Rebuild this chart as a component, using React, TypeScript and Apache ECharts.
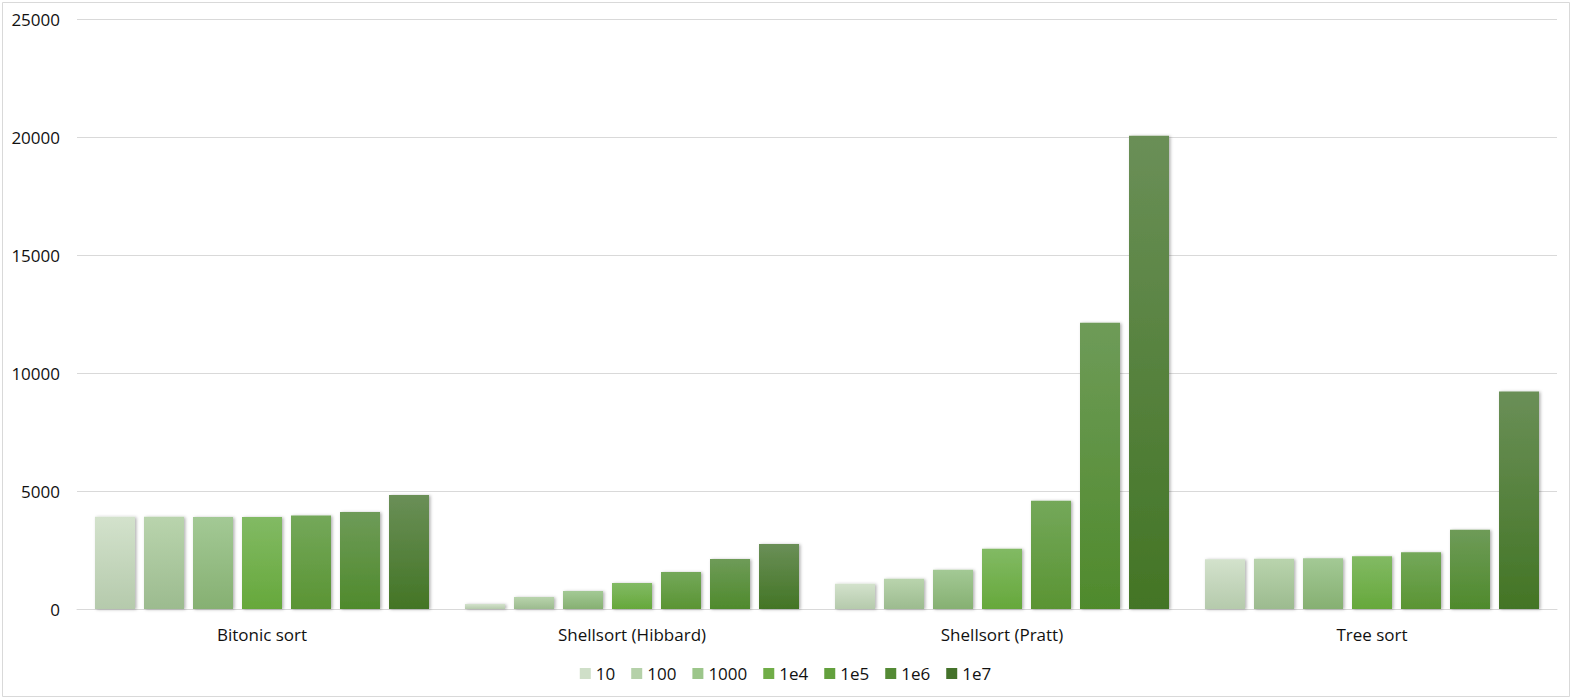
import React, { useEffect, useRef } from "react";
import * as echarts from "echarts";

const categories = ["Bitonic sort", "Shellsort (Hibbard)", "Shellsort (Pratt)", "Tree sort"];
const seriesNames = ["10", "100", "1000", "1e4", "1e5", "1e6", "1e7"];
// values per series, in category order
const s10 = [3910, 210, 1070, 2110];
const s100 = [3910, 510, 1285, 2125];
const s1000 = [3900, 760, 1665, 2150];
const s1e4 = [3900, 1100, 2555, 2235];
const s1e5 = [3960, 1570, 4590, 2405];
const s1e6 = [4110, 2120, 12130, 3355];
const s1e7 = [4830, 2750, 20055, 9220];
const seriesValues = [s10, s100, s1000, s1e4, s1e5, s1e6, s1e7];
const yTicks = { min: 0, max: 25000, interval: 5000 };

const topColors = ["#d3e2cc", "#b9d4ad", "#a3c995", "#82ba64", "#74a85a", "#6e9b58", "#6a8f57"];
const bottomColors = ["#b5caac", "#9cbb8f", "#86b072", "#66a83b", "#5a9433", "#4f8a2c", "#437525"];
const legendColors = ["#cfdfc8", "#b5d1a9", "#9cc68a", "#70ad47", "#63a03d", "#548a35", "#44722a"];

const FONT = "'Open Sans', 'Liberation Sans', sans-serif";
const TEXT = "#111111";

export default function App() {
  const ref = useRef<HTMLDivElement>(null);
  useEffect(() => {
    document.body.style.margin = "0";
    const chart = echarts.init(ref.current!, null, { renderer: "svg" });
    chart.setOption({
      animation: false,
      backgroundColor: "#ffffff",
      graphic: [
        {
          type: "rect",
          left: 0,
          top: 0,
          shape: { width: 1567, height: 694 },
          style: { fill: "none", stroke: "#d9d9d9", lineWidth: 1 },
          silent: true,
        },
      ],
      grid: { left: 77, right: 14, top: 19, bottom: 88, containLabel: false },
      legend: {
        data: seriesNames.map((n, i) => ({ name: n, itemStyle: { color: legendColors[i] } })),
        left: "center",
        top: 660,
        itemWidth: 11,
        itemHeight: 11,
        itemGap: 16,
        icon: "rect",
        textStyle: { fontFamily: FONT, fontSize: 17, color: TEXT },
      },
      xAxis: {
        type: "category",
        data: categories,
        axisLine: { lineStyle: { color: "#d9d9d9", width: 1 } },
        axisTick: { show: false },
        axisLabel: { fontFamily: FONT, fontSize: 17, color: TEXT, margin: 17 },
      },
      yAxis: {
        type: "value",
        min: yTicks.min,
        max: yTicks.max,
        interval: yTicks.interval,
        axisLine: { show: false },
        axisTick: { show: false },
        splitLine: { lineStyle: { color: "#d9d9d9", width: 1 } },
        axisLabel: {
          fontFamily: FONT,
          fontSize: 17,
          color: TEXT,
          margin: 17,
          formatter: (v: number) => String(v),
        },
      },
      series: seriesNames.map((name, i) => ({
        name,
        type: "bar",
        data: seriesValues[i],
        barWidth: 40,
        barGap: "22.5%",
        itemStyle: {
          color: new echarts.graphic.LinearGradient(0, 0, 0, 1, [
            { offset: 0, color: topColors[i] },
            { offset: 1, color: bottomColors[i] },
          ]),
          shadowBlur: 3,
          shadowOffsetX: 1.5,
          shadowOffsetY: 0.5,
          shadowColor: "rgba(0,0,0,0.3)",
        },
      })),
    });
    return () => chart.dispose();
  }, []);
  return <div ref={ref} style={{ width: 1571, height: 697 }} />;
}
